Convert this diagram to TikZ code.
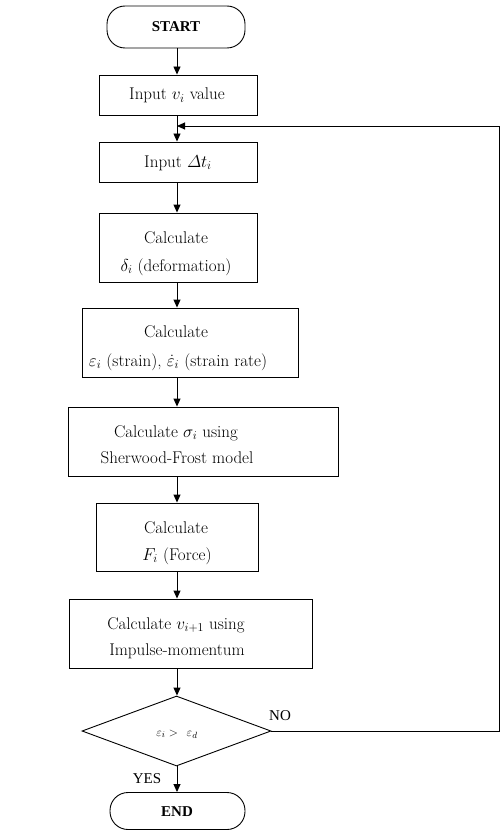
\documentclass[tikz,border=0pt]{standalone}
\usepackage{amsmath}
\usepackage{fontspec}
\newfontfamily\termfont{Liberation Serif}
\usetikzlibrary{arrows.meta,shapes.geometric}
\begin{document}
\begin{tikzpicture}[x=1pt,y=-1pt,
  box/.style={draw, line width=0.9pt, inner sep=0pt},
  term/.style={box, rounded corners=18pt},
  txt/.style={anchor=base, inner sep=0pt, font=\fontsize{17}{20}\selectfont},
  lbl/.style={anchor=base, inner sep=0pt, font=\termfont\fontsize{15}{18}\selectfont},
  flow/.style={line width=0.9pt, -{Triangle[length=8pt,width=7pt]}},
  plain/.style={line width=0.9pt}]
\useasboundingbox (0,0) rectangle (502,832);
\coordinate (spine) at (177,0);

% shapes
\node[term, minimum width=138pt, minimum height=42pt] (start) at (176,27) {};
\node[box, minimum width=158pt, minimum height=40pt] (inv) at (178,95) {};
\node[box, minimum width=158pt, minimum height=40pt] (dt) at (178,162) {};
\node[box, minimum width=158pt, minimum height=69pt] (del) at (178,247.5) {};
\node[box, minimum width=216pt, minimum height=69pt] (eps) at (190.5,342.5) {};
\node[box, minimum width=270pt, minimum height=69pt] (sig) at (203,441.5) {};
\node[box, minimum width=162pt, minimum height=68pt] (frc) at (177,537) {};
\node[box, minimum width=243pt, minimum height=69pt] (vel) at (191,633.5) {};
\node[box, diamond, minimum width=189pt, minimum height=70pt] (dia) at (176.5,731) {};
\node[term, minimum width=135pt, minimum height=37pt] (stop) at (177.5,811) {};

% texts
\node[lbl, font=\termfont\bfseries\fontsize{15}{18}\selectfont] (tstart) at (176,32) {START};
\node[txt] (tinv) at (177,100) {Input $v_i$ value};
\node[txt] (tdt) at (178,167) {Input $\varDelta t_i$};
\node[txt] (tdel1) at (176,243) {Calculate};
\node[txt] (tdel2) at (176,271) {$\delta_i$ (deformation)};
\node[txt] (teps1) at (176,337) {Calculate};
\node[txt] (teps2) at (178,366) {$\varepsilon_i$ (strain), $\dot{\varepsilon}_i$ (strain rate)};
\node[txt] (tsig1) at (176,437) {Calculate $\sigma_i$ using};
\node[txt] (tsig2) at (177,463) {Sherwood-Frost model};
\node[txt] (tfrc1) at (176,533) {Calculate};
\node[txt] (tfrc2) at (177,560) {$F_i$ (Force)};
\node[txt] (tvel1) at (176,629) {Calculate $v_{i+1}$ using};
\node[txt] (tvel2) at (177,655) {Impulse-momentum};
\node[txt, font=\fontsize{13}{16}\selectfont] (tdia) at (177,736) {$\varepsilon_i >\;\, \varepsilon_d$};
\node[lbl, font=\termfont\bfseries\fontsize{15}{18}\selectfont] (tstop) at (177,816) {END};
\node[lbl] (tno) at (280,720) {NO};
\node[lbl] (tyes) at (147,783) {YES};

% connectors
\coordinate (c1) at (499,731);
\coordinate (c2) at (499,126);
\coordinate (loopin) at (177,126);
\draw[flow] (start.south -| spine) -- (inv.north -| spine);
\draw[flow] (inv.south -| spine) -- (dt.north -| spine);
\draw[flow] (dt.south -| spine) -- (del.north -| spine);
\draw[flow] (del.south -| spine) -- (eps.north -| spine);
\draw[flow] (eps.south -| spine) -- (sig.north -| spine);
\draw[flow] (sig.south -| spine) -- (frc.north -| spine);
\draw[flow] (frc.south -| spine) -- (vel.north -| spine);
\draw[flow] (vel.south -| spine) -- (dia.north -| spine);
\draw[flow] (dia.south -| spine) -- (stop.north -| spine);
\draw[flow] (dia.east) -- (c1) -- (c2) -- (loopin);
\end{tikzpicture}
\end{document}
